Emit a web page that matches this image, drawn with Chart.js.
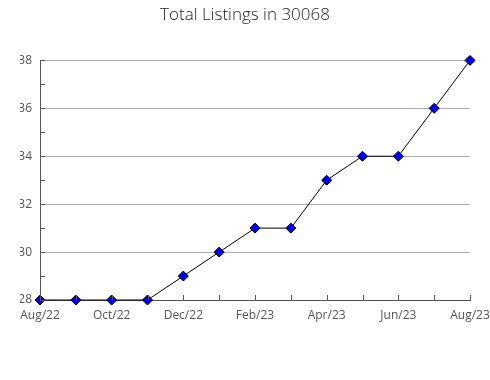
<!DOCTYPE html>
<html>
<head>
<meta charset="utf-8">
<script src="https://cdn.jsdelivr.net/npm/chart.js@4.4.0/dist/chart.umd.min.js"></script>
<style>
  html, body { margin: 0; padding: 0; background: #fff; }
  #wrap { width: 490px; height: 380px; }
</style>
</head>
<body>
<div id="wrap"><canvas id="listings" width="490" height="380"></canvas></div>
<script>
const months = ['Aug/22', 'Sep/22', 'Oct/22', 'Nov/22', 'Dec/22', 'Jan/23', 'Feb/23',
  'Mar/23', 'Apr/23', 'May/23', 'Jun/23', 'Jul/23', 'Aug/23'];
const totals = [28, 28, 28, 28, 29, 30, 31, 31, 33, 34, 34, 36, 38];
const yMin = 28;
const yMax = 38;

// little inner tick marks on both axes
const innerTicks = {
  id: 'innerTicks',
  afterDatasetsDraw(chart) {
    const { ctx, chartArea, scales } = chart;
    ctx.save();
    ctx.strokeStyle = '#555';
    ctx.lineWidth = 1;
    ctx.beginPath();
    months.forEach((m, i) => {
      const x = Math.round(scales.x.getPixelForValue(i)) + 0.5;
      ctx.moveTo(x, chartArea.bottom);
      ctx.lineTo(x, chartArea.bottom - 5);
    });
    for (let v = yMin; v <= yMax; v++) {
      const y = Math.round(scales.y.getPixelForValue(v)) + 0.5;
      ctx.moveTo(chartArea.left, y);
      ctx.lineTo(chartArea.left + 5, y);
    }
    ctx.stroke();
    ctx.restore();
  }
};

const ctx = document.getElementById('listings').getContext('2d');
new Chart(ctx, {
  type: 'line',
  data: {
    labels: months,
    datasets: [{
      data: totals,
      borderColor: '#000',
      borderWidth: 1,
      tension: 0,
      pointStyle: 'rectRot',
      pointRadius: 5,
      pointBackgroundColor: '#0000ee',
      pointBorderColor: '#000',
      pointBorderWidth: 1,
      clip: false
    }]
  },
  options: {
    responsive: false,
    animation: false,
    layout: { padding: { left: 20, right: 20, top: 0, bottom: 58 } },
    plugins: {
      legend: { display: false },
      tooltip: { enabled: false },
      title: {
        display: true,
        text: 'Total Listings in 30068',
        color: '#222',
        font: { family: 'Open Sans', size: 17, weight: '300' },
        padding: { top: 5, bottom: 35 }
      }
    },
    scales: {
      x: {
        offset: false,
        grid: { display: false },
        border: { display: true, color: '#555' },
        ticks: {
          autoSkip: false,
          maxRotation: 0,
          color: '#555',
          padding: 0,
          font: { family: 'Open Sans', size: 12 },
          callback: (v, i) => (i % 2 === 0 ? months[i] : '')
        },
        afterFit: s => { s.height = 22; }
      },
      y: {
        min: yMin,
        max: yMax,
        grid: {
          drawTicks: false,
          color: c => (c.tick.value % 2 === 0 ? '#aaa' : 'rgba(0,0,0,0)')
        },
        border: { display: true, color: '#555' },
        ticks: {
          stepSize: 1,
          color: '#555',
          padding: 8,
          font: { family: 'Open Sans', size: 12 },
          callback: v => (v % 2 === 0 ? v : '')
        },
        afterFit: s => { s.width = 20; }
      }
    }
  },
  plugins: [innerTicks]
});
</script>
</body>
</html>
